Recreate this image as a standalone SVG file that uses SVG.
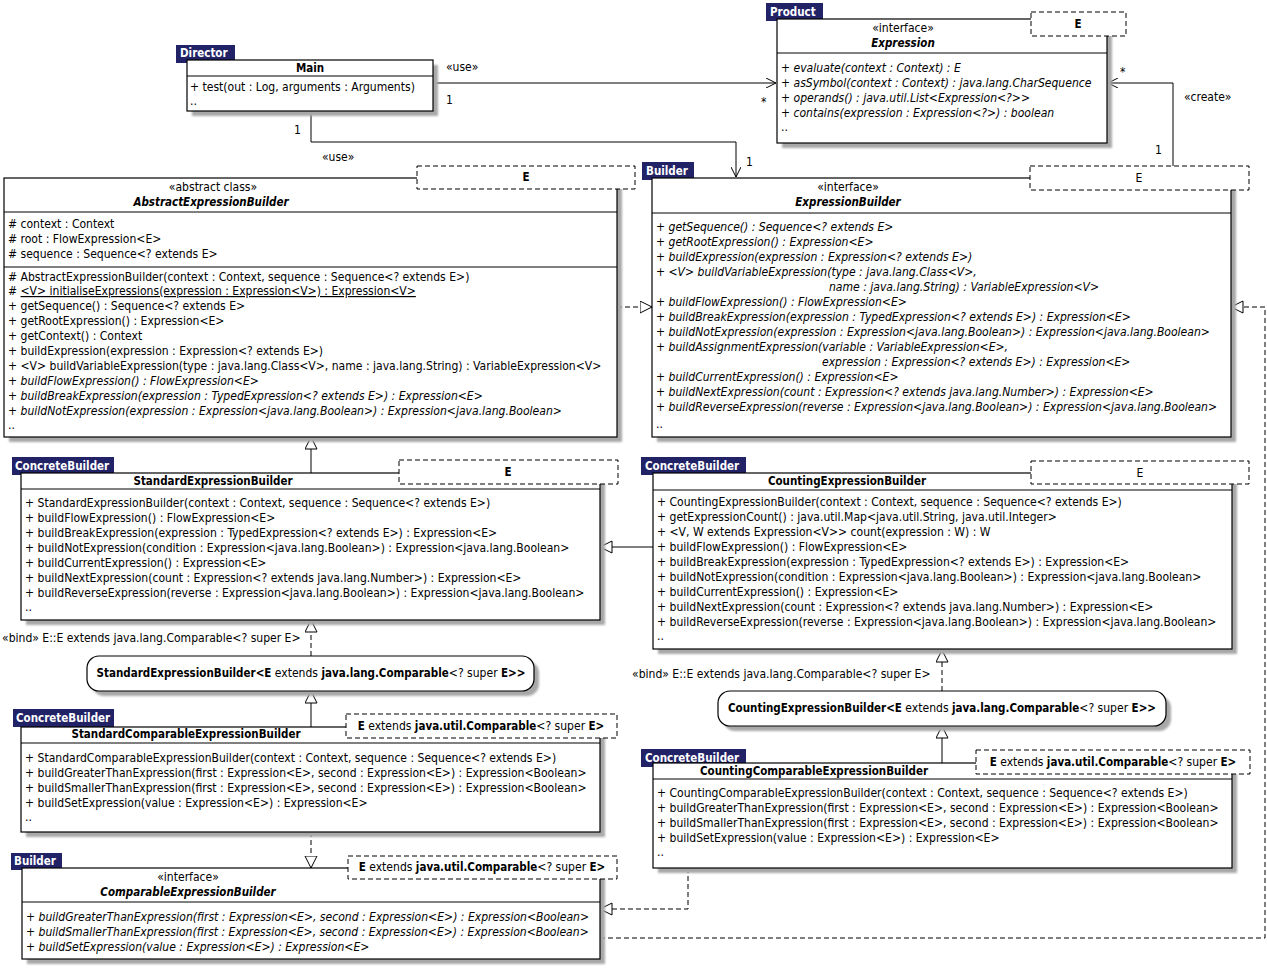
<svg xmlns="http://www.w3.org/2000/svg" width="1267" height="969" viewBox="0 0 1267 969">
<defs>
<style>
text{font-family:"DejaVu Sans Condensed","DejaVu Sans",sans-serif;font-size:12.05px;fill:#000}
.box{fill:#fff;stroke:#000;stroke-width:1.2}
.sep{stroke:#000;stroke-width:1}
.sh{fill:#a8a8a8;filter:url(#blur)}
.tab{fill:#222266}
.tabt{fill:#fff;font-weight:bold;font-size:11.5px}
.tmpl{fill:#fff;stroke:#000;stroke-width:1;stroke-dasharray:5,3}
.i{font-style:italic}
.bo{font-weight:bold;font-size:11.5px}
.c{text-anchor:middle}
.u{text-decoration:underline}
.ln{fill:none;stroke:#000;stroke-width:1}
.dl{fill:none;stroke:#000;stroke-width:1;stroke-dasharray:5,3}
.sm{font-size:12px}
</style>
<filter id="blur" x="-5%" y="-5%" width="110%" height="110%"><feGaussianBlur stdDeviation="1.3"/></filter>
<marker id="arr" markerUnits="userSpaceOnUse" markerWidth="12" markerHeight="10" refX="10" refY="5" orient="auto"><path d="M0,0 L10,5 L0,10" fill="none" stroke="#000" stroke-width="1"/></marker>
<marker id="tri" markerUnits="userSpaceOnUse" markerWidth="14" markerHeight="14" refX="12.5" refY="6.5" orient="auto"><path d="M0.5,0.5 L12.5,6.5 L0.5,12.5 Z" fill="#fff" stroke="#000" stroke-width="1"/></marker>
</defs>
<rect width="1267" height="969" fill="#fff"/>

<g id="connectors">
<path class="ln" d="M433,83 L776,83" marker-end="url(#arr)"/>
<path class="ln" d="M311,111 L311,142 L736,142 L736,177" marker-end="url(#arr)"/>
<path class="ln" d="M1173,166 L1173,83 L1108,83" marker-end="url(#arr)"/>
<path class="dl" d="M617,307 L652,307" marker-end="url(#tri)"/>
<path class="ln" d="M311,473 L311,437" marker-end="url(#tri)"/>
<path class="ln" d="M653,547 L600,547" marker-end="url(#tri)"/>
<path class="dl" d="M311,656 L311,620" marker-end="url(#tri)"/>
<path class="ln" d="M311,727 L311,691" marker-end="url(#tri)"/>
<path class="dl" d="M311,832 L311,868" marker-end="url(#tri)"/>
<path class="dl" d="M942,691 L942,650" marker-end="url(#tri)"/>
<path class="ln" d="M942,763 L942,726" marker-end="url(#tri)"/>
<path class="dl" d="M688,868 L688,909 L600,909" marker-end="url(#tri)"/>
<path class="dl" d="M600,938 L1265,938 L1265,307 L1231,307" marker-end="url(#tri)"/>
<text x="446" y="71" class="sm">«use»</text>
<text x="446" y="104">1</text>
<text x="761" y="106">*</text>
<text x="294" y="134">1</text>
<text x="322" y="161" class="sm">«use»</text>
<text x="746" y="166">1</text>
<text x="1120" y="76">*</text>
<text x="1184" y="101" class="sm">«create»</text>
<text x="1155" y="154">1</text>
<text x="2" y="642">«bind» E::E extends java.lang.Comparable&lt;? super E&gt;</text>
<text x="632" y="678">«bind» E::E extends java.lang.Comparable&lt;? super E&gt;</text>
</g>

<g id="Main">
<rect class="tab" x="176" y="45" width="59" height="18"/>
<text class="tabt" x="180" y="57">Director</text>
<rect class="sh" x="192" y="65" width="246" height="51"/>
<rect class="box" x="187" y="60" width="246" height="51"/>
<line class="sep" x1="187" y1="76" x2="433" y2="76"/>
<text class="c bo" x="310" y="72">Main</text>
<text x="190" y="91">+ test(out : Log, arguments : Arguments)</text>
<text x="190" y="105">..</text>
</g>

<g id="Expression">
<rect class="tab" x="766" y="3" width="57" height="18"/>
<text class="tabt" x="770" y="16">Product</text>
<rect class="sh" x="782" y="24" width="330" height="124"/>
<rect class="box" x="777" y="19" width="330" height="124"/>
<line class="sep" x1="777" y1="53" x2="1107" y2="53"/>
<rect class="tmpl" x="1031" y="12" width="95" height="24"/>
<text class="c bo" x="1078" y="28">E</text>
<text class="c" x="903" y="32">«interface»</text>
<text class="c bo i" x="903" y="47">Expression</text>
<text class="i" x="781" y="72">+ evaluate(context : Context) : E</text>
<text class="i" x="781" y="87">+ asSymbol(context : Context) : java.lang.CharSequence</text>
<text class="i" x="781" y="102">+ operands() : java.util.List&lt;Expression&lt;?&gt;&gt;</text>
<text class="i" x="781" y="117">+ contains(expression : Expression&lt;?&gt;) : boolean</text>
<text x="781" y="131">..</text>
</g>

<g id="AbstractExpressionBuilder">
<rect class="sh" x="9" y="183" width="613" height="259"/>
<rect class="box" x="4" y="178" width="613" height="259"/>
<line class="sep" x1="4" y1="212" x2="617" y2="212"/>
<line class="sep" x1="4" y1="267" x2="617" y2="267"/>
<rect class="tmpl" x="417" y="166" width="218" height="23"/>
<text class="c bo" x="526" y="181">E</text>
<text class="c" x="213" y="191">«abstract class»</text>
<text class="c bo i" x="211" y="206">AbstractExpressionBuilder</text>
<text x="8" y="228"># context : Context</text>
<text x="8" y="243"># root : FlowExpression&lt;E&gt;</text>
<text x="8" y="258"># sequence : Sequence&lt;? extends E&gt;</text>
<text x="8" y="281"># AbstractExpressionBuilder(context : Context, sequence : Sequence&lt;? extends E&gt;)</text>
<text x="8" y="295"># <tspan class="u">&lt;V&gt; initialiseExpressions(expression : Expression&lt;V&gt;) : Expression&lt;V&gt;</tspan></text>
<text x="8" y="310">+ getSequence() : Sequence&lt;? extends E&gt;</text>
<text x="8" y="325">+ getRootExpression() : Expression&lt;E&gt;</text>
<text x="8" y="340">+ getContext() : Context</text>
<text x="8" y="355">+ buildExpression(expression : Expression&lt;? extends E&gt;)</text>
<text x="8" y="370">+ &lt;V&gt; buildVariableExpression(type : java.lang.Class&lt;V&gt;, name : java.lang.String) : VariableExpression&lt;V&gt;</text>
<text class="i" x="8" y="385">+ buildFlowExpression() : FlowExpression&lt;E&gt;</text>
<text class="i" x="8" y="400">+ buildBreakExpression(expression : TypedExpression&lt;? extends E&gt;) : Expression&lt;E&gt;</text>
<text class="i" x="8" y="415">+ buildNotExpression(expression : Expression&lt;java.lang.Boolean&gt;) : Expression&lt;java.lang.Boolean&gt;</text>
<text x="8" y="429">..</text>
</g>

<g id="ExpressionBuilder">
<rect class="tab" x="642" y="162" width="52" height="18"/>
<text class="tabt" x="646" y="175">Builder</text>
<rect class="sh" x="657" y="183" width="579" height="259"/>
<rect class="box" x="652" y="178" width="579" height="259"/>
<line class="sep" x1="652" y1="213" x2="1231" y2="213"/>
<rect class="tmpl" x="1030" y="166" width="219" height="24"/>
<text class="c" x="1139" y="182">E</text>
<text class="c" x="848" y="191">«interface»</text>
<text class="c bo i" x="848" y="206">ExpressionBuilder</text>
<text class="i" x="656" y="231">+ getSequence() : Sequence&lt;? extends E&gt;</text>
<text class="i" x="656" y="246">+ getRootExpression() : Expression&lt;E&gt;</text>
<text class="i" x="656" y="261">+ buildExpression(expression : Expression&lt;? extends E&gt;)</text>
<text class="i" x="656" y="276">+ &lt;V&gt; buildVariableExpression(type : java.lang.Class&lt;V&gt;,</text>
<text class="i" x="829" y="291">name : java.lang.String) : VariableExpression&lt;V&gt;</text>
<text class="i" x="656" y="306">+ buildFlowExpression() : FlowExpression&lt;E&gt;</text>
<text class="i" x="656" y="321">+ buildBreakExpression(expression : TypedExpression&lt;? extends E&gt;) : Expression&lt;E&gt;</text>
<text class="i" x="656" y="336">+ buildNotExpression(expression : Expression&lt;java.lang.Boolean&gt;) : Expression&lt;java.lang.Boolean&gt;</text>
<text class="i" x="656" y="351">+ buildAssignmentExpression(variable : VariableExpression&lt;E&gt;,</text>
<text class="i" x="822" y="366">expression : Expression&lt;? extends E&gt;) : Expression&lt;E&gt;</text>
<text class="i" x="656" y="381">+ buildCurrentExpression() : Expression&lt;E&gt;</text>
<text class="i" x="656" y="396">+ buildNextExpression(count : Expression&lt;? extends java.lang.Number&gt;) : Expression&lt;E&gt;</text>
<text class="i" x="656" y="411">+ buildReverseExpression(reverse : Expression&lt;java.lang.Boolean&gt;) : Expression&lt;java.lang.Boolean&gt;</text>
<text x="656" y="428">..</text>
</g>

<g id="StandardExpressionBuilder">
<rect class="tab" x="12" y="457" width="102" height="18"/>
<text class="tabt" x="15" y="470">ConcreteBuilder</text>
<rect class="sh" x="26" y="478" width="579" height="147"/>
<rect class="box" x="21" y="473" width="579" height="147"/>
<line class="sep" x1="21" y1="489" x2="600" y2="489"/>
<rect class="tmpl" x="399" y="460" width="219" height="24"/>
<text class="c bo" x="508" y="476">E</text>
<text class="c bo" x="213" y="485">StandardExpressionBuilder</text>
<text x="25" y="507">+ StandardExpressionBuilder(context : Context, sequence : Sequence&lt;? extends E&gt;)</text>
<text x="25" y="522">+ buildFlowExpression() : FlowExpression&lt;E&gt;</text>
<text x="25" y="537">+ buildBreakExpression(expression : TypedExpression&lt;? extends E&gt;) : Expression&lt;E&gt;</text>
<text x="25" y="552">+ buildNotExpression(condition : Expression&lt;java.lang.Boolean&gt;) : Expression&lt;java.lang.Boolean&gt;</text>
<text x="25" y="567">+ buildCurrentExpression() : Expression&lt;E&gt;</text>
<text x="25" y="582">+ buildNextExpression(count : Expression&lt;? extends java.lang.Number&gt;) : Expression&lt;E&gt;</text>
<text x="25" y="597">+ buildReverseExpression(reverse : Expression&lt;java.lang.Boolean&gt;) : Expression&lt;java.lang.Boolean&gt;</text>
<text x="25" y="611">..</text>
</g>

<g id="BoundStandardExpressionBuilder">
<rect class="sh" x="92" y="661" width="447" height="35" rx="12"/>
<rect class="box" x="87" y="656" width="447" height="35" rx="12"/>
<text class="c" x="311" y="677"><tspan class="bo">StandardExpressionBuilder&lt;E</tspan> extends <tspan class="bo">java.lang.Comparable</tspan>&lt;? super <tspan class="bo">E&gt;&gt;</tspan></text>
</g>

<g id="StandardComparableExpressionBuilder">
<rect class="tab" x="13" y="709" width="101" height="18"/>
<text class="tabt" x="16" y="722">ConcreteBuilder</text>
<rect class="sh" x="26" y="732" width="579" height="105"/>
<rect class="box" x="21" y="727" width="579" height="105"/>
<line class="sep" x1="21" y1="743" x2="600" y2="743"/>
<rect class="tmpl" x="346" y="714" width="271" height="24"/>
<text class="c" x="481" y="730"><tspan class="bo">E</tspan> extends <tspan class="bo">java.util.Comparable</tspan>&lt;? super <tspan class="bo">E&gt;</tspan></text>
<text class="c bo" x="186" y="738">StandardComparableExpressionBuilder</text>
<text x="25" y="762">+ StandardComparableExpressionBuilder(context : Context, sequence : Sequence&lt;? extends E&gt;)</text>
<text x="25" y="777">+ buildGreaterThanExpression(first : Expression&lt;E&gt;, second : Expression&lt;E&gt;) : Expression&lt;Boolean&gt;</text>
<text x="25" y="792">+ buildSmallerThanExpression(first : Expression&lt;E&gt;, second : Expression&lt;E&gt;) : Expression&lt;Boolean&gt;</text>
<text x="25" y="807">+ buildSetExpression(value : Expression&lt;E&gt;) : Expression&lt;E&gt;</text>
<text x="25" y="821">..</text>
</g>

<g id="ComparableExpressionBuilder">
<rect class="tab" x="11" y="853" width="51" height="17"/>
<text class="tabt" x="14" y="865">Builder</text>
<rect class="sh" x="27" y="873" width="578" height="91"/>
<rect class="box" x="22" y="868" width="578" height="91"/>
<line class="sep" x1="22" y1="902" x2="600" y2="902"/>
<rect class="tmpl" x="348" y="856" width="269" height="23"/>
<text class="c" x="482" y="871"><tspan class="bo">E</tspan> extends <tspan class="bo">java.util.Comparable</tspan>&lt;? super <tspan class="bo">E&gt;</tspan></text>
<text class="c" x="188" y="881">«interface»</text>
<text class="c bo i" x="188" y="896">ComparableExpressionBuilder</text>
<text class="i" x="26" y="921">+ buildGreaterThanExpression(first : Expression&lt;E&gt;, second : Expression&lt;E&gt;) : Expression&lt;Boolean&gt;</text>
<text class="i" x="26" y="936">+ buildSmallerThanExpression(first : Expression&lt;E&gt;, second : Expression&lt;E&gt;) : Expression&lt;Boolean&gt;</text>
<text class="i" x="26" y="951">+ buildSetExpression(value : Expression&lt;E&gt;) : Expression&lt;E&gt;</text>
</g>

<g id="CountingExpressionBuilder">
<rect class="tab" x="641" y="457" width="105" height="18"/>
<text class="tabt" x="645" y="470">ConcreteBuilder</text>
<rect class="sh" x="658" y="478" width="579" height="176"/>
<rect class="box" x="653" y="473" width="579" height="176"/>
<line class="sep" x1="653" y1="490" x2="1232" y2="490"/>
<rect class="tmpl" x="1031" y="461" width="218" height="23"/>
<text class="c" x="1140" y="477">E</text>
<text class="c bo" x="847" y="485">CountingExpressionBuilder</text>
<text x="657" y="506">+ CountingExpressionBuilder(context : Context, sequence : Sequence&lt;? extends E&gt;)</text>
<text x="657" y="521">+ getExpressionCount() : java.util.Map&lt;java.util.String, java.util.Integer&gt;</text>
<text x="657" y="536">+ &lt;V, W extends Expression&lt;V&gt;&gt; count(expression : W) : W</text>
<text x="657" y="551">+ buildFlowExpression() : FlowExpression&lt;E&gt;</text>
<text x="657" y="566">+ buildBreakExpression(expression : TypedExpression&lt;? extends E&gt;) : Expression&lt;E&gt;</text>
<text x="657" y="581">+ buildNotExpression(condition : Expression&lt;java.lang.Boolean&gt;) : Expression&lt;java.lang.Boolean&gt;</text>
<text x="657" y="596">+ buildCurrentExpression() : Expression&lt;E&gt;</text>
<text x="657" y="611">+ buildNextExpression(count : Expression&lt;? extends java.lang.Number&gt;) : Expression&lt;E&gt;</text>
<text x="657" y="626">+ buildReverseExpression(reverse : Expression&lt;java.lang.Boolean&gt;) : Expression&lt;java.lang.Boolean&gt;</text>
<text x="657" y="640">..</text>
</g>

<g id="BoundCountingExpressionBuilder">
<rect class="sh" x="723" y="696" width="448" height="35" rx="12"/>
<rect class="box" x="718" y="691" width="448" height="35" rx="12"/>
<text class="c" x="942" y="712"><tspan class="bo">CountingExpressionBuilder&lt;E</tspan> extends <tspan class="bo">java.lang.Comparable</tspan>&lt;? super <tspan class="bo">E&gt;&gt;</tspan></text>
</g>

<g id="CountingComparableExpressionBuilder">
<rect class="tab" x="641" y="749" width="105" height="18"/>
<text class="tabt" x="645" y="762">ConcreteBuilder</text>
<rect class="sh" x="658" y="768" width="579" height="105"/>
<rect class="box" x="653" y="763" width="579" height="105"/>
<line class="sep" x1="653" y1="779" x2="1232" y2="779"/>
<rect class="tmpl" x="976" y="750" width="274" height="24"/>
<text class="c" x="1113" y="766"><tspan class="bo">E</tspan> extends <tspan class="bo">java.util.Comparable</tspan>&lt;? super <tspan class="bo">E&gt;</tspan></text>
<text class="c bo" x="814" y="775">CountingComparableExpressionBuilder</text>
<text x="657" y="797">+ CountingComparableExpressionBuilder(context : Context, sequence : Sequence&lt;? extends E&gt;)</text>
<text x="657" y="812">+ buildGreaterThanExpression(first : Expression&lt;E&gt;, second : Expression&lt;E&gt;) : Expression&lt;Boolean&gt;</text>
<text x="657" y="827">+ buildSmallerThanExpression(first : Expression&lt;E&gt;, second : Expression&lt;E&gt;) : Expression&lt;Boolean&gt;</text>
<text x="657" y="842">+ buildSetExpression(value : Expression&lt;E&gt;) : Expression&lt;E&gt;</text>
<text x="657" y="856">..</text>
</g>
</svg>
